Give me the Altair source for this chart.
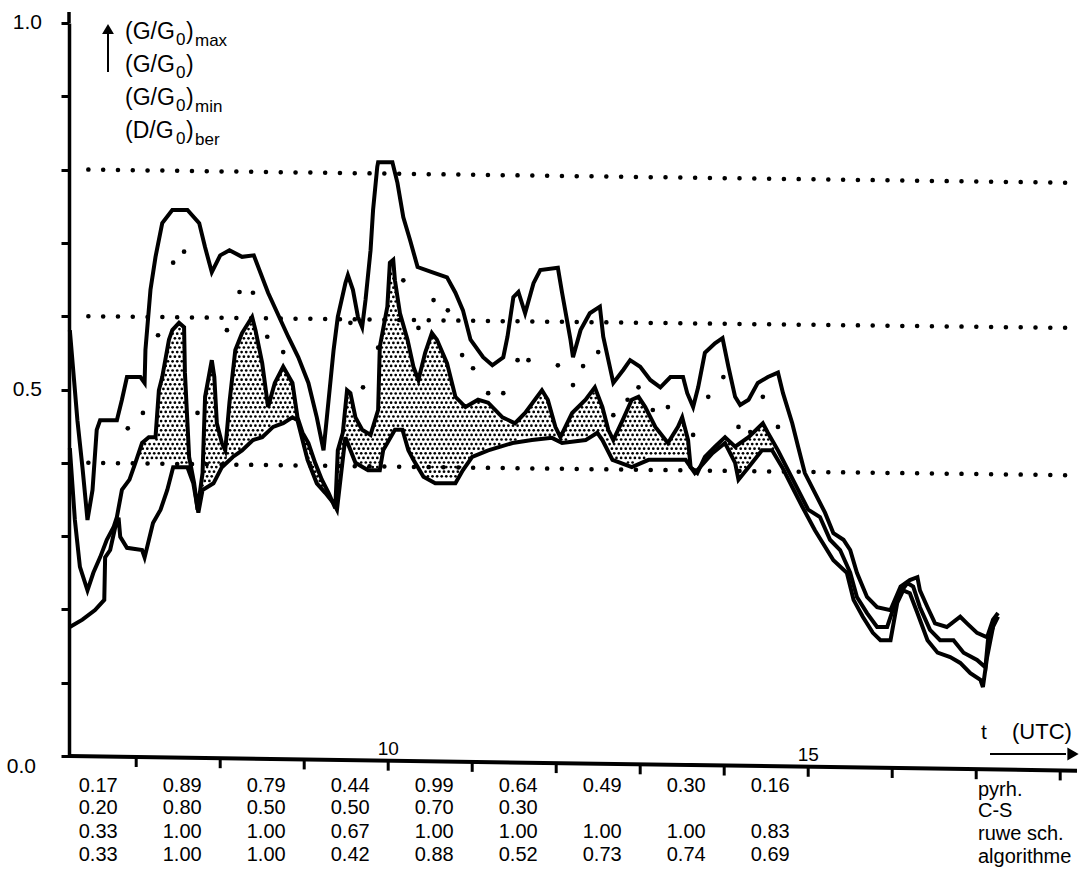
import altair as alt
import numpy as np
import pandas as pd

FONT = "Liberation Sans"

# ---- curves: time (UTC, hours) and value ----
max_t = [6.21, 6.26, 6.30, 6.36, 6.42, 6.48, 6.53, 6.57, 6.77, 6.83, 6.89, 7.05, 7.10, 7.11, 7.17, 7.23,
         7.31, 7.43, 7.61, 7.75, 7.82, 7.90, 8.00, 8.11, 8.26, 8.40, 8.57, 8.81, 8.93, 9.05, 9.15, 9.23,
         9.27, 9.35, 9.40, 9.49, 9.52, 9.58, 9.64, 9.69, 9.73, 9.79, 9.82, 9.87, 9.88, 10.05, 10.11,
         10.18, 10.26, 10.35, 10.52, 10.70, 10.80, 10.89, 10.98, 11.13, 11.24, 11.37, 11.42, 11.49,
         11.55, 11.63, 11.73, 11.81, 12.02, 12.07, 12.17, 12.20, 12.29, 12.40, 12.52, 12.56, 12.68,
         12.80, 12.88, 13.00, 13.12, 13.24, 13.36, 13.51, 13.56, 13.63, 13.69, 13.77, 13.89, 13.98,
         14.05, 14.13, 14.19, 14.29, 14.40, 14.52, 14.64, 14.70, 14.81, 14.88, 14.96, 15.08, 15.20,
         15.30, 15.42, 15.50, 15.58, 15.70, 15.82, 15.98, 16.10, 16.21, 16.30, 16.33, 16.42, 16.51,
         16.65, 16.81, 16.89, 17.01, 17.13, 17.20, 17.26]
max_v = [0.581, 0.513, 0.458, 0.394, 0.322, 0.363, 0.445, 0.458, 0.458, 0.486, 0.517, 0.517, 0.509,
         0.554, 0.636, 0.681, 0.727, 0.745, 0.745, 0.727, 0.694, 0.660, 0.683, 0.690, 0.681, 0.683,
         0.632, 0.572, 0.544, 0.509, 0.462, 0.417, 0.462, 0.554, 0.599, 0.645, 0.656, 0.636, 0.599,
         0.585, 0.622, 0.690, 0.745, 0.804, 0.810, 0.810, 0.782, 0.735, 0.704, 0.667, 0.660, 0.653,
         0.632, 0.608, 0.568, 0.544, 0.533, 0.544, 0.572, 0.626, 0.633, 0.604, 0.645, 0.663, 0.666,
         0.632, 0.568, 0.544, 0.581, 0.604, 0.613, 0.572, 0.509, 0.527, 0.540, 0.531, 0.513, 0.503,
         0.517, 0.517, 0.495, 0.476, 0.503, 0.550, 0.563, 0.570, 0.531, 0.490, 0.479, 0.486, 0.509,
         0.517, 0.523, 0.495, 0.454, 0.422, 0.386, 0.359, 0.332, 0.304, 0.295, 0.281, 0.250, 0.217,
         0.203, 0.199, 0.231, 0.240, 0.244, 0.226, 0.203, 0.181, 0.176, 0.190, 0.181, 0.168, 0.162,
         0.186, 0.195]

mid_t = [6.21, 6.27, 6.33, 6.42, 6.49, 6.57, 6.65, 6.73, 6.77, 6.83, 6.92, 6.99, 7.07, 7.15, 7.23,
         7.27, 7.31, 7.39, 7.43, 7.51, 7.57, 7.58, 7.61, 7.63, 7.69, 7.73, 7.79, 7.82, 7.90, 7.93, 7.96,
         8.02, 8.06, 8.11, 8.18, 8.26, 8.38, 8.42, 8.50, 8.57, 8.65, 8.75, 8.86, 8.92, 8.98, 9.05, 9.13,
         9.21, 9.29, 9.37, 9.40, 9.46, 9.51, 9.55, 9.61, 9.69, 9.79, 9.88, 9.90, 9.99, 10.02, 10.06,
         10.08, 10.14, 10.23, 10.30, 10.36, 10.44, 10.52, 10.58, 10.70, 10.80, 10.92, 11.07, 11.19,
         11.36, 11.51, 11.63, 11.83, 11.90, 11.99, 12.05, 12.19, 12.35, 12.46, 12.55, 12.62, 12.68,
         12.79, 12.90, 12.98, 13.06, 13.18, 13.33, 13.45, 13.50, 13.57, 13.60, 13.68, 13.77, 13.89,
         14.01, 14.13, 14.29, 14.46, 14.52, 14.64, 14.76, 14.88, 15.00, 15.14, 15.26, 15.38, 15.50,
         15.58, 15.70, 15.82, 15.94, 16.06, 16.18, 16.25, 16.33, 16.45, 16.57, 16.73, 16.85, 17.01,
         17.11, 17.14, 17.20, 17.26]
mid_v = [0.420, 0.322, 0.258, 0.226, 0.250, 0.271, 0.295, 0.312, 0.326, 0.363, 0.377, 0.400, 0.427,
         0.435, 0.435, 0.499, 0.517, 0.568, 0.581, 0.591, 0.585, 0.523, 0.454, 0.408, 0.372, 0.336,
         0.386, 0.490, 0.540, 0.517, 0.454, 0.427, 0.417, 0.482, 0.554, 0.577, 0.599, 0.581, 0.536,
         0.476, 0.509, 0.531, 0.509, 0.462, 0.441, 0.427, 0.400, 0.377, 0.359, 0.338, 0.417, 0.441,
         0.499, 0.495, 0.462, 0.445, 0.438, 0.472, 0.558, 0.613, 0.673, 0.677, 0.649, 0.604, 0.568,
         0.531, 0.513, 0.550, 0.577, 0.568, 0.536, 0.490, 0.476, 0.486, 0.482, 0.462, 0.454, 0.468,
         0.499, 0.486, 0.449, 0.435, 0.468, 0.486, 0.503, 0.476, 0.445, 0.431, 0.458, 0.486, 0.490,
         0.476, 0.449, 0.427, 0.449, 0.462, 0.431, 0.394, 0.386, 0.408, 0.422, 0.435, 0.422, 0.435,
         0.454, 0.441, 0.417, 0.390, 0.363, 0.336, 0.326, 0.295, 0.281, 0.250, 0.217, 0.195, 0.176,
         0.176, 0.217, 0.236, 0.231, 0.203, 0.172, 0.158, 0.158, 0.141, 0.131, 0.121, 0.158, 0.176,
         0.190]

min_t = [6.21, 6.36, 6.51, 6.62, 6.63, 6.69, 6.75, 6.79, 6.81, 6.89, 7.07, 7.10, 7.20, 7.29, 7.37,
         7.44, 7.61, 7.68, 7.74, 7.79, 7.92, 8.02, 8.15, 8.26, 8.39, 8.50, 8.63, 8.75, 8.86, 8.92, 9.04,
         9.15, 9.25, 9.35, 9.39, 9.49, 9.61, 9.76, 9.90, 9.94, 10.08, 10.17, 10.24, 10.30, 10.42, 10.56,
         10.80, 10.89, 11.00, 11.19, 11.48, 11.71, 11.95, 12.07, 12.35, 12.49, 12.55, 12.67, 12.90,
         13.10, 13.54, 13.65, 13.86, 14.01, 14.13, 14.17, 14.29, 14.45, 14.57, 14.69, 14.81, 14.93,
         15.08, 15.30, 15.46, 15.54, 15.65, 15.77, 15.86, 15.98, 16.06, 16.13, 16.21, 16.30, 16.42,
         16.54, 16.69, 16.81, 16.93, 17.05, 17.08, 17.13, 17.20]
min_v = [0.176, 0.186, 0.199, 0.213, 0.271, 0.281, 0.312, 0.325, 0.299, 0.284, 0.281, 0.271, 0.318,
         0.336, 0.363, 0.394, 0.394, 0.372, 0.332, 0.363, 0.372, 0.394, 0.408, 0.417, 0.431, 0.435,
         0.449, 0.454, 0.462, 0.458, 0.404, 0.372, 0.359, 0.345, 0.336, 0.435, 0.400, 0.390, 0.390,
         0.417, 0.445, 0.445, 0.417, 0.404, 0.381, 0.372, 0.372, 0.390, 0.408, 0.417, 0.427, 0.431,
         0.434, 0.427, 0.431, 0.441, 0.431, 0.404, 0.394, 0.404, 0.404, 0.386, 0.413, 0.427, 0.400,
         0.377, 0.394, 0.417, 0.417, 0.394, 0.367, 0.340, 0.308, 0.267, 0.250, 0.213, 0.190, 0.168,
         0.158, 0.158, 0.209, 0.226, 0.222, 0.195, 0.158, 0.141, 0.135, 0.127, 0.113, 0.104, 0.094,
         0.135, 0.176]

# lower edge of the shaded band where it leaves the minimum curve
band_lo_t = [7.05, 7.44, 7.61]
band_lo_v = [0.400, 0.400, 0.394]
band_span = [7.05, 14.70]

# computed diffuse fraction (D/G0)ber, one dot per time step
dg_t = [6.90, 7.08, 7.26, 7.44, 7.57, 7.73, 8.08, 8.23, 8.39, 8.56, 8.75, 9.55, 9.70, 9.88, 10.18,
        10.36, 10.54, 10.71, 10.88, 11.01, 11.19, 11.37, 11.54, 11.67, 12.02, 12.20, 12.32, 12.50,
        12.68, 12.85, 12.98, 13.15, 13.33, 13.63, 13.81, 13.99, 14.17, 14.31, 14.46, 14.64]
dg_v = [0.447, 0.468, 0.574, 0.673, 0.688, 0.468, 0.581, 0.633, 0.632, 0.572, 0.551, 0.591, 0.503,
        0.557, 0.649, 0.584, 0.622, 0.608, 0.547, 0.529, 0.495, 0.495, 0.540, 0.540, 0.533, 0.506,
        0.532, 0.551, 0.465, 0.486, 0.503, 0.472, 0.476, 0.438, 0.490, 0.517, 0.449, 0.442, 0.490,
        0.449]

# dotted reference levels (start and end value of each drawn line)
ref_t = [6.43, 18.15]
ref_start = [0.80, 0.60, 0.40]
ref_end = [0.782, 0.584, 0.383]

# value axis
y_ticks = [i / 10 for i in range(11)]
y_labels = ["0.0", "0.5", "1.0"]
y_label_vals = [0.0, 0.5, 1.0]
y_axis_top = 1.015

# time axis
axis_t = [6.20, 18.20]
axis_v = [0.0, -0.02]
tick_hours = [7, 8, 9, 10, 11, 12, 13, 14, 15, 16, 17, 18]
tick_labels = {10: "10", 15: "15"}

# hourly table below the time axis
col_hours = [6.5, 7.5, 8.5, 9.5, 10.5, 11.5, 12.5, 13.5, 14.5]
row_names = ["pyrh.", "C-S", "ruwe sch.", "algorithme"]
row_pyrh = ["0.17", "0.89", "0.79", "0.44", "0.99", "0.64", "0.49", "0.30", "0.16"]
row_cs = ["0.20", "0.80", "0.50", "0.50", "0.70", "0.30", "", "", ""]
row_ruwe = ["0.33", "1.00", "1.00", "0.67", "1.00", "1.00", "1.00", "1.00", "0.83"]
row_algo = ["0.33", "1.00", "1.00", "0.42", "0.88", "0.52", "0.73", "0.74", "0.69"]

# ---- layout ----
W, H = 1008, 733
PAD = {"left": 69, "top": 23, "right": 14, "bottom": 123}
PX_T = 1 / 84.0   # hours per pixel
PX_V = 1 / 733.0  # value units per pixel

xscale = alt.Scale(domain=[6.2, 18.2], nice=False, zero=False)
yscale = alt.Scale(domain=[0, 1], nice=False)
yaxis = alt.Axis(
    values=y_ticks, labels=False, title=None, grid=False, tickSize=8, tickWidth=3,
    tickColor="black", domainColor="black", domainWidth=3.5,
)


def X(field):
    return alt.X(field, type="quantitative", scale=xscale, axis=None)


def Y(field):
    return alt.Y(field, type="quantitative", scale=yscale, axis=yaxis)


def Y2(field):
    return alt.Y2(field)


layers = []

# stippled band between G/G0 and its lower edge
step_t, step_v = 4.6 * PX_T, 4.6 * PX_V
rows = []
for j, v in enumerate(np.arange(0.30, 0.72, step_v)):
    ts = np.arange(band_span[0] + (j % 2) * step_t / 2, band_span[1], step_t)
    hi = np.interp(ts, mid_t, mid_v)
    lo = np.interp(ts, min_t, min_v)
    inside_lo = (ts >= band_lo_t[0]) & (ts <= band_lo_t[-1])
    lo = np.where(inside_lo, np.maximum(lo, np.interp(ts, band_lo_t, band_lo_v)), lo)
    keep = (v < hi - 2.5 * PX_V) & (v > lo + 2.5 * PX_V)
    rows.append(pd.DataFrame({"t": ts[keep], "v": v}))
stipple = pd.concat(rows, ignore_index=True)
layers.append(
    alt.Chart(stipple).mark_circle(color="black", size=7.5, opacity=1).encode(x=X("t"), y=Y("v"))
)

# dotted reference levels
ref = pd.DataFrame({"t0": [ref_t[0]] * 3, "t1": [ref_t[1]] * 3, "v0": ref_start, "v1": ref_end})
layers.append(
    alt.Chart(ref).mark_rule(color="black", strokeWidth=4.5, strokeDash=[0.1, 14.7], strokeCap="round").encode(
        x=X("t0"), x2=alt.X2("t1"), y=Y("v0"), y2=Y2("v1")
    )
)

# the three curves
for tt, vv in [(max_t, max_v), (mid_t, mid_v), (min_t, min_v)]:
    df = pd.DataFrame({"t": tt, "v": vv})
    layers.append(
        alt.Chart(df).mark_line(color="black", strokeWidth=4, strokeJoin="miter").encode(
            x=X("t"), y=Y("v")
        )
    )

# (D/G0)ber dots
layers.append(
    alt.Chart(pd.DataFrame({"t": dg_t, "v": dg_v})).mark_circle(color="black", size=22, opacity=1).encode(
        x=X("t"), y=Y("v")
    )
)

# value axis continues a little above 1.0
layers.append(
    alt.Chart(pd.DataFrame({"t": [6.2], "v0": [1.0], "v1": [y_axis_top]})).mark_rule(
        color="black", strokeWidth=3.5
    ).encode(x=X("t"), y=Y("v0"), y2=Y2("v1"))
)

# value-axis labels
ylab = pd.DataFrame({"v": y_label_vals, "txt": y_labels})
layers.append(
    alt.Chart(ylab[ylab.v > 0]).mark_text(font=FONT, fontSize=21, color="black", align="right", baseline="middle").encode(
        x=alt.value(42 - PAD["left"]), y=Y("v"), text="txt:N"
    )
)
layers.append(
    alt.Chart(ylab[ylab.v == 0]).mark_text(font=FONT, fontSize=21, color="black", align="right", baseline="middle", dy=11).encode(
        x=alt.value(36 - PAD["left"]), y=Y("v"), text="txt:N"
    )
)

# time axis line, ticks and labels
layers.append(
    alt.Chart(pd.DataFrame({"t0": [axis_t[0]], "t1": [axis_t[1]], "v0": [axis_v[0]], "v1": [axis_v[1]]}))
    .mark_rule(color="black", strokeWidth=4)
    .encode(x=X("t0"), x2=alt.X2("t1"), y=Y("v0"), y2=Y2("v1"))
)
tick_base = np.interp(tick_hours, axis_t, axis_v)
ticks = pd.DataFrame({"t": tick_hours, "v0": tick_base, "v1": tick_base - 10 * PX_V})
layers.append(
    alt.Chart(ticks).mark_rule(color="black", strokeWidth=3).encode(x=X("t"), y=Y("v0"), y2=Y2("v1"))
)
lab_t = list(tick_labels.keys())
lab_base = np.interp(lab_t, axis_t, axis_v)
labs = pd.DataFrame({"t": lab_t, "v": lab_base, "txt": list(tick_labels.values())})
layers.append(
    alt.Chart(labs).mark_text(font=FONT, fontSize=19, color="black", baseline="bottom", dy=-2).encode(
        x=X("t"), y=Y("v"), text="txt:N"
    )
)

# table rows
row_y = [786, 808, 832, 855]
for vals, ry in zip([row_pyrh, row_cs, row_ruwe, row_algo], row_y):
    df = pd.DataFrame({"t": col_hours, "txt": vals})
    layers.append(
        alt.Chart(df).mark_text(font=FONT, fontSize=20, color="black", baseline="middle", dx=4).encode(
            x=X("t"), y=alt.value(ry - PAD["top"]), text="txt:N"
        )
    )

one = pd.DataFrame({"a": [0]})


def text_at(txt, x_abs, y_abs, size=20, align="left"):
    return alt.Chart(one).mark_text(
        text=txt, font=FONT, fontSize=size, color="black", align=align, baseline="middle"
    ).encode(x=alt.value(x_abs - PAD["left"]), y=alt.value(y_abs - PAD["top"]))


name_y = [790, 811, 834, 857]
for nm, ny in zip(row_names, name_y):
    layers.append(text_at(nm, 978, ny))

# t (UTC) with arrow
layers.append(text_at("t", 981, 733, size=21))
layers.append(text_at("(UTC)", 1012, 732, size=22))
layers.append(
    alt.Chart(one).mark_rule(color="black", strokeWidth=2).encode(
        x=alt.value(990 - PAD["left"]), x2=alt.value(1066 - PAD["left"]),
        y=alt.value(754 - PAD["top"])
    )
)
layers.append(
    alt.Chart(one).mark_point(shape="triangle-right", filled=True, color="black", size=170, opacity=1).encode(
        x=alt.value(1073 - PAD["left"]), y=alt.value(754 - PAD["top"])
    )
)

# quantity labels next to the value axis, with upward arrow
layers.append(
    alt.Chart(one).mark_rule(color="black", strokeWidth=2).encode(
        x=alt.value(108 - PAD["left"]), y=alt.value(34 - PAD["top"]), y2=alt.value(72 - PAD["top"])
    )
)
layers.append(
    alt.Chart(one).mark_point(shape="triangle-up", filled=True, color="black", size=140, opacity=1).encode(
        x=alt.value(108 - PAD["left"]), y=alt.value(29 - PAD["top"])
    )
)
legend_rows = [
    ("(G/G", "0", ")", "max", 32),
    ("(G/G", "0", ")", "", 65),
    ("(G/G", "0", ")", "min", 98),
    ("(D/G", "0", ")", "ber", 131),
]
for main, sub0, close, sub, ly in legend_rows:
    layers.append(text_at(main, 125, ly, size=23))
    layers.append(text_at(sub0, 176, ly + 8, size=17))
    layers.append(text_at(close, 186, ly, size=23))
    if sub:
        layers.append(text_at(sub, 195, ly + 9, size=17))

chart = (
    alt.layer(*layers)
    .properties(width=W, height=H, padding=PAD, autosize="none", background="white")
    .configure_view(stroke=None)
)

chart.save("out.html", embed_options={"renderer": "svg", "actions": False})
